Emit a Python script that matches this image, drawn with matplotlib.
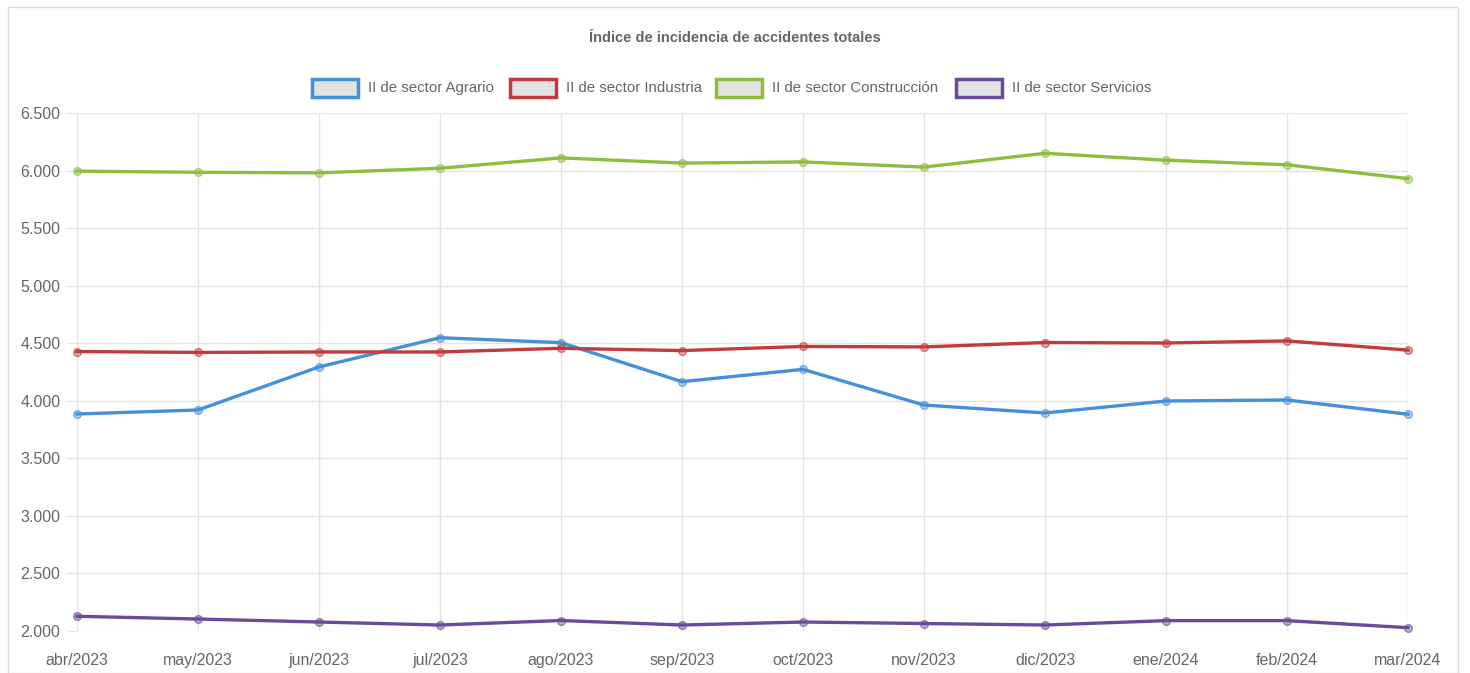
import matplotlib
matplotlib.use("Agg")
from matplotlib import pyplot as plt
from matplotlib.patches import Rectangle
from matplotlib.ticker import FuncFormatter

meses = ["abr/2023", "may/2023", "jun/2023", "jul/2023", "ago/2023", "sep/2023",
         "oct/2023", "nov/2023", "dic/2023", "ene/2024", "feb/2024", "mar/2024"]
agrario = [3885, 3920, 4294, 4548, 4505, 4166, 4273, 3963, 3894, 3998, 4007, 3883]
industria = [4428, 4420, 4424, 4424, 4456, 4436, 4472, 4468, 4506, 4502, 4520, 4440]
construccion = [5995, 5985, 5980, 6020, 6110, 6065, 6075, 6030, 6150, 6090, 6050, 5930]
servicios = [2128, 2104, 2078, 2052, 2091, 2052, 2078, 2065, 2052, 2090, 2090, 2029]

series = [
    ("II de sector Agrario", agrario, "#4590d8"),
    ("II de sector Industria", industria, "#c23b3b"),
    ("II de sector Construcción", construccion, "#8dbd3f"),
    ("II de sector Servicios", servicios, "#6a4b98"),
]

plt.rcParams["font.family"] = ["Liberation Sans Narrow", "Liberation Sans", "DejaVu Sans"]
gris = "#666666"

fig = plt.figure(figsize=(14.7, 6.73), dpi=100)
# marco del panel
fig.patches.append(Rectangle((8 / 1470, 0), 1450 / 1470, 1 - 7 / 673, transform=fig.transFigure,
                             fill=False, edgecolor="#dddddd", linewidth=1))

ax = fig.add_axes([77 / 1470, 1 - 631 / 673, (1408 - 77) / 1470, (631 - 113) / 673])
x = list(range(len(meses)))
for nombre, valores, color in series:
    ax.plot(x, valores, color=color, linewidth=2.4, marker="o", markersize=5.5,
            markerfacecolor=color + "66", markeredgecolor=color + "aa", markeredgewidth=1,
            label=nombre, zorder=3, clip_on=False)

ax.set_xlim(0, len(meses) - 1)
ax.set_ylim(2000, 6500)
ax.set_yticks(range(2000, 6501, 500))
ax.yaxis.set_major_formatter(FuncFormatter(lambda v, p: f"{int(v):,}".replace(",", ".")))
ax.set_xticks(x)
ax.set_xticklabels(meses)
ax.grid(True, color="#e4e4e4", linewidth=1)
ax.set_axisbelow(True)
for s in ax.spines.values():
    s.set_visible(False)
ax.tick_params(axis="both", colors="#e4e4e4", labelcolor=gris, labelsize=11.5, length=8)
ax.tick_params(axis="y", pad=4)
ax.tick_params(axis="x", length=0, pad=16)

fig.text(0.5, 1 - 38 / 673, "Índice de incidencia de accidentes totales", ha="center", va="center",
         fontsize=10.5, fontweight="bold", color=gris)

# leyenda
xs = [312, 510, 716, 956]
for (nombre, valores, color), x0 in zip(series, xs):
    fig.patches.append(Rectangle((x0 / 1470, 1 - 97 / 673), 46 / 1470, 18 / 673,
                                 transform=fig.transFigure, facecolor="#e2e2e2",
                                 edgecolor=color, linewidth=2.5))
    fig.text((x0 + 56) / 1470, 1 - 88 / 673, nombre, ha="left", va="center",
             fontsize=10.8, color=gris)

plt.savefig("out.png", dpi=100)
